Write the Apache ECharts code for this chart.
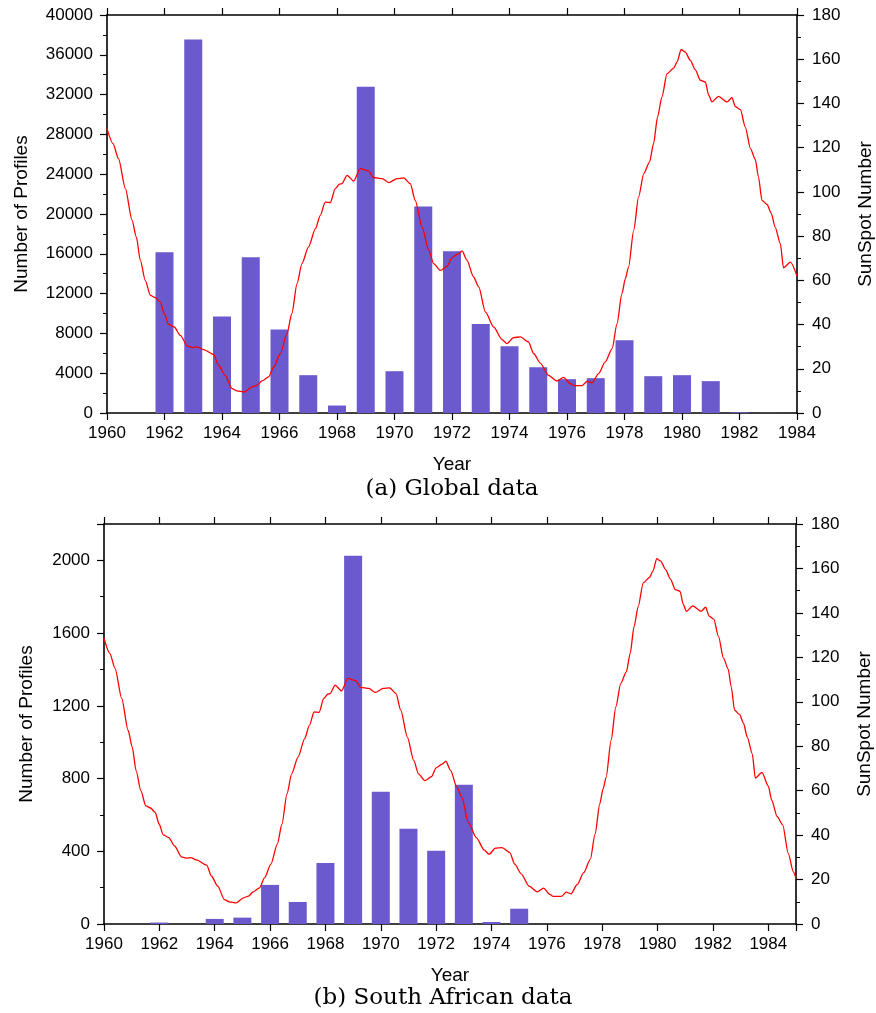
<!DOCTYPE html>
<html>
<head>
<meta charset="utf-8">
<script src="https://cdn.jsdelivr.net/npm/echarts@6/dist/echarts.min.js"></script>
<style>
  html, body { margin: 0; padding: 0; background: #ffffff; overflow: hidden; }
  #chart { width: 876px; height: 1013px; }
</style>
</head>
<body>
<div id="chart"></div>
<script>
// Yearly profile counts, global archive (years 1962-1983)
const globalYears = [1962, 1963, 1964, 1965, 1966, 1967, 1968, 1969, 1970, 1971, 1972,
                     1973, 1974, 1975, 1976, 1977, 1978, 1979, 1980, 1981, 1982, 1983];
const globalProfiles = [16150, 37550, 9700, 15650, 8400, 3800, 750, 32800, 4200, 20750, 16250,
                        8950, 6700, 4600, 3400, 3500, 7300, 3700, 3800, 3200, 80, 20];

// Yearly profile counts, South African archive (years 1962-1975)
const saYears = [1962, 1963, 1964, 1965, 1966, 1967, 1968, 1969, 1970, 1971, 1972, 1973, 1974, 1975];
const saProfiles = [8, 0, 28, 35, 215, 121, 336, 2025, 728, 524, 403, 766, 11, 84];

// Smoothed monthly sunspot number: decimal year and value
const sunspotYear = [
  1960.00, 1960.21, 1960.40, 1960.64, 1960.87, 1961.02, 1961.16, 1961.33, 1961.51, 1961.68,
  1961.85, 1961.99, 1962.14, 1962.34, 1962.55, 1962.80, 1963.01, 1963.13, 1963.36, 1963.71,
  1963.88, 1964.11, 1964.35, 1964.52, 1964.78, 1965.04, 1965.22, 1965.39, 1965.62, 1965.80,
  1966.03, 1966.26, 1966.43, 1966.61, 1966.78, 1967.01, 1967.25, 1967.42, 1967.59, 1967.77,
  1967.94, 1968.09, 1968.17, 1968.35, 1968.58, 1968.81, 1969.10, 1969.27, 1969.57, 1969.80,
  1970.09, 1970.32, 1970.55, 1970.72, 1970.96, 1971.19, 1971.36, 1971.59, 1971.83, 1972.00,
  1972.23, 1972.35, 1972.52, 1972.75, 1972.93, 1973.16, 1973.45, 1973.74, 1973.91, 1974.14,
  1974.38, 1974.66, 1974.84, 1975.07, 1975.36, 1975.65, 1975.88, 1976.11, 1976.23, 1976.52,
  1976.70, 1976.87, 1977.10, 1977.33, 1977.57, 1977.74, 1977.91, 1978.03, 1978.14, 1978.32,
  1978.49, 1978.67, 1978.87, 1979.01, 1979.15, 1979.30, 1979.48, 1979.71, 1979.83, 1979.97,
  1980.11, 1980.29, 1980.46, 1980.64, 1980.81, 1980.93, 1981.04, 1981.27, 1981.57, 1981.74,
  1981.85, 1982.03, 1982.20, 1982.38, 1982.55, 1982.66, 1982.78, 1982.96, 1983.10, 1983.24,
  1983.42, 1983.53, 1983.77, 1984.00, 1984.12, 1984.32, 1984.52, 1984.72, 1984.90, 1985.00
];
const sunspotValue = [
  128.6, 121.8, 115.0, 101.5, 87.2, 79.6, 69.0, 60.0, 53.2, 52.2,
  50.2, 45.0, 40.1, 38.9, 35.1, 30.2, 29.6, 29.9, 28.7, 26.5,
  21.6, 17.0, 11.0, 10.0, 9.5, 11.8, 12.5, 14.5, 16.3, 20.8,
  26.9, 35.9, 45.0, 58.5, 67.6, 75.1, 83.4, 89.4, 95.4, 95.2,
  101.5, 103.5, 103.7, 107.5, 104.9, 110.5, 109.5, 106.5, 106.0, 104.2,
  106.0, 106.3, 103.7, 96.2, 84.1, 73.6, 67.6, 64.5, 66.3, 70.3,
  72.1, 73.3, 69.1, 61.5, 57.0, 45.7, 38.9, 33.2, 31.4, 34.1,
  34.4, 32.1, 26.9, 22.6, 17.0, 14.5, 16.1, 13.3, 12.4, 12.4,
  14.3, 13.6, 17.8, 23.1, 29.1, 40.4, 54.0, 60.8, 66.0, 82.6,
  97.7, 108.3, 113.5, 121.8, 133.9, 142.9, 153.5, 156.0, 158.8, 164.4,
  163.3, 159.5, 155.3, 150.5, 149.7, 143.7, 140.7, 143.2, 140.7, 142.6,
  138.7, 137.2, 129.4, 119.6, 114.7, 106.7, 96.2, 94.3, 90.5, 84.1,
  76.6, 65.7, 68.2, 62.0, 55.8, 48.3, 44.6, 31.8, 23.6, 20.5
];

const pairs = (xs, ys) => xs.map((x, i) => [x, ys[i]]);
const sunspot = pairs(sunspotYear, sunspotValue);

const AXIS_COLOR = '#000000';
const BAR_COLOR = '#6a5acd';
const LINE_COLOR = '#ff0000';
const SANS = 'Liberation Sans, Arial, sans-serif';

function bottomX(gridIndex, max) {
  return {
    type: 'value', gridIndex: gridIndex, position: 'bottom',
    min: 1960, max: max, interval: 2,
    name: 'Year', nameLocation: 'middle', nameGap: 42,
    nameTextStyle: { fontFamily: SANS, fontSize: 19, color: '#000' },
    axisLine: { onZero: false, lineStyle: { color: AXIS_COLOR, width: 1.6 } },
    axisTick: { length: 7, lineStyle: { color: AXIS_COLOR, width: 1.2 } },
    axisLabel: {
      fontFamily: SANS, fontSize: 17, color: '#000', margin: 12,
      formatter: v => (v % 2 === 0 ? String(v) : '')
    },
    splitLine: { show: false }
  };
}
function topX(gridIndex, max) {
  return {
    type: 'value', gridIndex: gridIndex, position: 'top',
    min: 1960, max: max, interval: 2,
    axisLine: { onZero: false, lineStyle: { color: AXIS_COLOR, width: 1.6 } },
    axisTick: { length: 7, lineStyle: { color: AXIS_COLOR, width: 1.2 } },
    axisLabel: { show: false },
    splitLine: { show: false }
  };
}
function countAxis(gridIndex, max, interval, gap) {
  return {
    type: 'value', gridIndex: gridIndex, position: 'left',
    min: 0, max: max, interval: interval,
    name: 'Number of Profiles', nameLocation: 'middle', nameGap: gap,
    nameTextStyle: { fontFamily: SANS, fontSize: 19, color: '#000' },
    axisLine: { show: true, onZero: false, lineStyle: { color: AXIS_COLOR, width: 1.6 } },
    axisTick: { show: true, length: 7, lineStyle: { color: AXIS_COLOR, width: 1.2 } },
    minorTick: { show: true, splitNumber: 2, length: 4, lineStyle: { color: AXIS_COLOR, width: 1 } },
    axisLabel: {
      fontFamily: SANS, fontSize: 17, color: '#000', margin: 14,
      showMaxLabel: max % interval === 0,
      formatter: v => String(v)
    },
    splitLine: { show: false }, minorSplitLine: { show: false }
  };
}
function sunspotAxis(gridIndex) {
  return {
    type: 'value', gridIndex: gridIndex, position: 'right',
    min: 0, max: 180, interval: 20,
    name: 'SunSpot Number', nameLocation: 'middle', nameGap: 59,
    nameTextStyle: { fontFamily: SANS, fontSize: 19, color: '#000' },
    axisLine: { show: true, onZero: false, lineStyle: { color: AXIS_COLOR, width: 1.6 } },
    axisTick: { show: true, length: 7, lineStyle: { color: AXIS_COLOR, width: 1.2 } },
    minorTick: { show: true, splitNumber: 2, length: 4, lineStyle: { color: AXIS_COLOR, width: 1 } },
    axisLabel: { fontFamily: SANS, fontSize: 17, color: '#000', margin: 15, formatter: v => String(v) },
    splitLine: { show: false }, minorSplitLine: { show: false }
  };
}

const chart = echarts.init(document.getElementById('chart'), null, { renderer: 'canvas' });

chart.setOption({
  backgroundColor: '#ffffff',
  animation: false,
  grid: [
    { left: 107, right: 79, top: 15, height: 398, outerBoundsMode: 'none', containLabel: false },
    { left: 104, right: 80, top: 524, height: 400, outerBoundsMode: 'none', containLabel: false }
  ],
  xAxis: [bottomX(0, 1984), topX(0, 1984), bottomX(1, 1985), topX(1, 1985)],
  yAxis: [countAxis(0, 40000, 4000, 76), sunspotAxis(0), countAxis(1, 2200, 400, 68), sunspotAxis(1)],
  series: [
    {
      type: 'bar', xAxisIndex: 0, yAxisIndex: 0, barWidth: 18,
      itemStyle: { color: BAR_COLOR },
      data: pairs(globalYears, globalProfiles)
    },
    {
      type: 'line', xAxisIndex: 0, yAxisIndex: 1, showSymbol: false, clip: true,
      smooth: 0.25, smoothMonotone: 'x',
      lineStyle: { color: LINE_COLOR, width: 1.3 },
      data: sunspot.filter(p => p[0] <= 1984)
    },
    {
      type: 'bar', xAxisIndex: 2, yAxisIndex: 2, barWidth: 18,
      itemStyle: { color: BAR_COLOR },
      data: pairs(saYears, saProfiles)
    },
    {
      type: 'line', xAxisIndex: 2, yAxisIndex: 3, showSymbol: false, clip: true,
      smooth: 0.25, smoothMonotone: 'x',
      lineStyle: { color: LINE_COLOR, width: 1.3 },
      data: sunspot
    }
  ],
  graphic: [
    {
      type: 'text', x: 452, y: 489,
      style: { text: '(a) Global data', font: '23px "DejaVu Serif", serif', fill: '#000',
               align: 'center', verticalAlign: 'middle' }
    },
    {
      type: 'text', x: 443, y: 998,
      style: { text: '(b) South African data', font: '23px "DejaVu Serif", serif', fill: '#000',
               align: 'center', verticalAlign: 'middle' }
    }
  ]
});
</script>
</body>
</html>
